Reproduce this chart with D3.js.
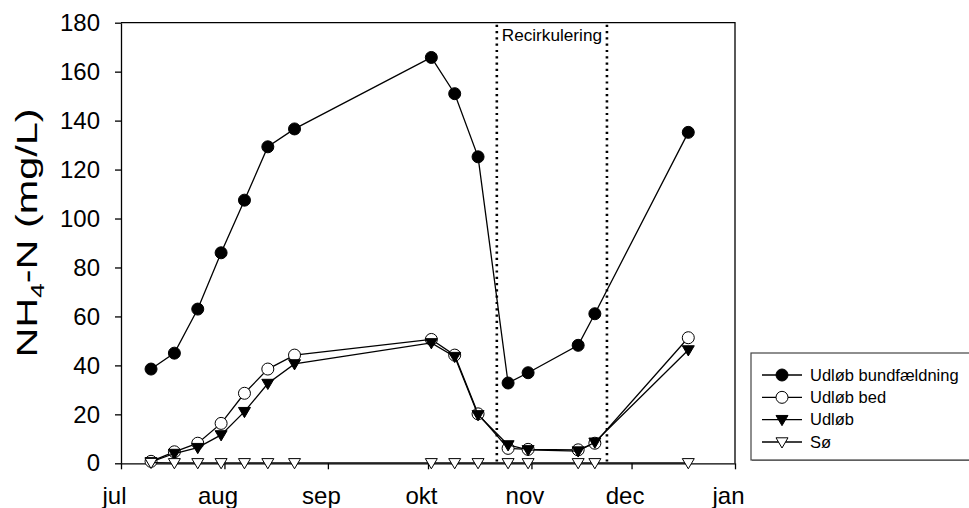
<!DOCTYPE html>
<html>
<head>
<meta charset="utf-8">
<script src="https://cdn.jsdelivr.net/npm/d3@7"></script>
<style>
  html, body { margin: 0; padding: 0; background: #fff; }
  svg { display: block; font-family: "Liberation Sans", Arial, sans-serif; }
</style>
</head>
<body>
<svg id="chart" width="969" height="508"></svg>
<script>
// Sampling dates
const dates = ["2007-07-10","2007-07-17","2007-07-24","2007-07-31","2007-08-07","2007-08-14","2007-08-22",
               "2007-10-02","2007-10-09","2007-10-16","2007-10-25","2007-10-31","2007-11-15","2007-11-20","2007-12-18"];

// NH4-N (mg/L) per series
const udlobBundfaeldning = [38.5, 45, 63, 86, 107.5, 129.3, 136.6, 165.8, 151, 125.2, 32.8, 37, 48.2, 61.1, 135.2];
const udlobBed           = [0.8, 4.7, 8.2, 16.3, 28.6, 38.5, 44.2, 50.6, 44.2, 20.2, 6.1, 5.7, 5.5, 8.2, 51.3];
const udlob              = [0.6, 4.0, 6.4, 11.6, 21.1, 32.6, 40.6, 49.2, 43.6, 19.8, 7.5, 5.5, 5.0, 8.6, 46.3];
const so                 = [0.3, 0.2, 0.2, 0.2, 0.2, 0.2, 0.2, 0.2, 0.2, 0.2, 0.2, 0.2, 0.2, 0.2, 0.2];

const seriesNames = ["Udløb bundfældning", "Udløb bed", "Udløb", "Sø"];

// Axis ticks
const monthStarts = ["2007-07-01","2007-08-01","2007-09-01","2007-10-01","2007-11-01","2007-12-01","2008-01-01"];
const monthLabels = ["jul","aug","sep","okt","nov","dec","jan"];
const yTicks = [0, 20, 40, 60, 80, 100, 120, 140, 160, 180];

// Recirculation period
const recirkPeriod = ["2007-10-21T15:00:00Z", "2007-11-23T15:00:00Z"];
const recirkLabel = "Recirkulering";

const parse = d3.isoParse;

const svg = d3.select("#chart");
const plot = { left: 121, right: 735, top: 22.7, bottom: 463.3 };

const x = d3.scaleUtc()
  .domain([parse(monthStarts[0]), parse(monthStarts[monthStarts.length - 1])])
  .range([plot.left, plot.right]);
const y = d3.scaleLinear().domain([0, 180]).range([plot.bottom, plot.top]);

// Frame (top and right)
svg.append("path")
  .attr("d", `M${plot.left},${plot.top}H${plot.right}V${plot.bottom}`)
  .attr("fill", "none").attr("stroke", "#000").attr("stroke-width", 1.3);

// Y axis
const yAxis = svg.append("g")
  .attr("transform", `translate(${plot.left},0)`)
  .call(d3.axisLeft(y).tickValues(yTicks).tickSize(6).tickPadding(15).tickSizeOuter(0));
yAxis.select(".domain").attr("stroke-width", 1.3);
yAxis.selectAll(".tick line").attr("stroke-width", 1.3);
yAxis.selectAll(".tick text")
  .attr("font-size", 24).attr("font-family", "Liberation Sans, Arial, sans-serif")
  .attr("fill", "#000");

// X axis
const xAxis = svg.append("g")
  .attr("transform", `translate(0,${plot.bottom})`)
  .call(d3.axisBottom(x)
    .tickValues(monthStarts.map(parse))
    .tickFormat((d, i) => monthLabels[i])
    .tickSize(6).tickPadding(18).tickSizeOuter(0));
xAxis.select(".domain").attr("stroke-width", 1.3);
xAxis.selectAll(".tick line").attr("stroke-width", 1.3);
xAxis.selectAll(".tick text")
  .attr("font-size", 24).attr("font-family", "Liberation Sans, Arial, sans-serif")
  .attr("fill", "#000").attr("dx", -7);

// Y axis title with subscript
const yTitle = svg.append("text")
  .attr("transform", `translate(37,233) rotate(-90) scale(1.38,1)`)
  .attr("text-anchor", "middle")
  .attr("font-size", 30)
  .attr("fill", "#000");
yTitle.append("tspan").text("NH");
yTitle.append("tspan").attr("font-size", 19).attr("dy", 7).text("4");
yTitle.append("tspan").attr("dy", -7).text("-N (mg/L)");

// Recirculation boundaries
recirkPeriod.forEach(d => {
  svg.append("line")
    .attr("x1", x(parse(d))).attr("x2", x(parse(d)))
    .attr("y1", plot.top + 2).attr("y2", plot.bottom)
    .attr("stroke", "#000").attr("stroke-width", 2.6)
    .attr("stroke-dasharray", "2.2,4.1");
});
svg.append("text")
  .attr("x", (x(parse(recirkPeriod[0])) + x(parse(recirkPeriod[1]))) / 2)
  .attr("y", 41)
  .attr("text-anchor", "middle")
  .attr("font-size", 17.2)
  .attr("fill", "#000")
  .text(recirkLabel);

// Marker shapes
function markerPath(kind) {
  if (kind === "circle") return d3.symbol().type(d3.symbolCircle).size(Math.PI * 36)();
  // downward-pointing triangle
  return "M-6,-4.2L6,-4.2L0,6Z";
}
const seriesDefs = [
  { name: seriesNames[0], values: udlobBundfaeldning, kind: "circle", fill: "#000" },
  { name: seriesNames[1], values: udlobBed,           kind: "circle", fill: "#fff" },
  { name: seriesNames[2], values: udlob,              kind: "tri",    fill: "#000" },
  { name: seriesNames[3], values: so,                 kind: "tri",    fill: "#fff" }
];

const line = d3.line().x(d => x(d.date)).y(d => y(d.value));

seriesDefs.forEach(s => {
  const pts = dates.map((d, i) => ({ date: parse(d), value: s.values[i] }));
  const g = svg.append("g");
  g.append("path").datum(pts)
    .attr("d", line).attr("fill", "none")
    .attr("stroke", "#000").attr("stroke-width", 1.3);
  g.selectAll("path.m").data(pts).join("path")
    .attr("class", "m")
    .attr("d", markerPath(s.kind))
    .attr("transform", d => `translate(${x(d.date)},${y(d.value)})`)
    .attr("fill", s.fill).attr("stroke", "#000").attr("stroke-width", 1);
});

// Legend
const legend = svg.append("g");
legend.append("rect")
  .attr("x", 752).attr("y", 354).attr("width", 222).attr("height", 107)
  .attr("fill", "#888");
legend.append("rect")
  .attr("x", 751).attr("y", 353).attr("width", 222).attr("height", 107)
  .attr("fill", "#fff").attr("stroke", "#444").attr("stroke-width", 1.2);
const rowY = d3.scaleLinear().domain([0, 3]).range([375, 442]);
seriesDefs.forEach((s, i) => {
  const cy = rowY(i);
  legend.append("line").attr("x1", 762).attr("x2", 802).attr("y1", cy).attr("y2", cy)
    .attr("stroke", "#000").attr("stroke-width", 1.3);
  legend.append("path").attr("d", markerPath(s.kind))
    .attr("transform", `translate(782,${cy})`)
    .attr("fill", s.fill).attr("stroke", "#000").attr("stroke-width", 1);
  legend.append("text")
    .attr("x", 810).attr("y", cy + 5.5)
    .attr("font-size", 16.5).attr("fill", "#000")
    .text(s.name);
});
</script>
</body>
</html>
